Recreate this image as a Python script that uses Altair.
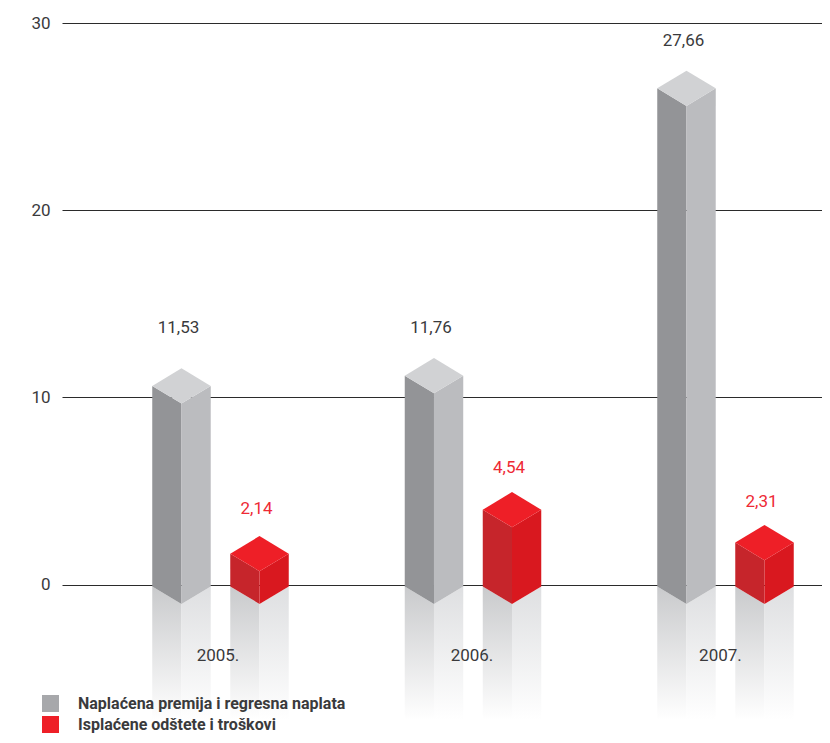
import altair as alt
import pandas as pd

# ---- values ----
years = ["2005.", "2006.", "2007."]
series = ["Naplaćena premija i regresna naplata", "Isplaćene odštete i troškovi"]
premium_labels = ["11,53", "11,76", "27,66"]
claims_labels = ["2,14", "4,54", "2,31"]
premium_tops = [11.55, 12.1, 27.45]      # height of the drawn block
claims_tops = [2.59, 4.94, 3.18]
premium_label_y = [13.7, 13.7, 29.05]
claims_label_y = [4.05, 6.25, 4.4]
year_label_y = [-3.82, -3.82, -3.82]
year_label_x = [-0.01, 0.996, 1.98]
y_ticks = [0, 10, 20, 30]

# ---- drawing constants ----
X_DOMAIN = [-0.6277, 2.3822]
Y_DOMAIN = [-8.04, 30]
HALF = 0.1158     # half block width, in group units
OFFSET = 0.1545   # block centre from group centre
DIAMOND = 0.94    # half depth of the top face, in value units
FRONT_BOTTOM = -1.04
SIDE_BOTTOM = -0.1
FADE_END = -7.25
LABEL_SHIFT = 0.012

xs = alt.Scale(domain=X_DOMAIN, nice=False, zero=False)
ys = alt.Scale(domain=Y_DOMAIN, nice=False, zero=False)
y_axis = alt.Axis(
    values=y_ticks, grid=True, gridColor="#2b2b2b", gridWidth=1, domain=False,
    ticks=False, title=None, labelPadding=12, labelFont="Roboto", labelFontSize=17,
    labelColor="#3a3a3c", labelFlush=False, format="d",
)

blocks = []
for i in range(3):
    blocks.append(("grey", i - OFFSET, premium_tops[i], i))
    blocks.append(("red", i + OFFSET, claims_tops[i], i))

rows = []
for kind, c, top, i in blocks:
    bid = f"{kind}{i}"
    l, r = c - HALF, c + HALF
    rows += [
        dict(face="left", kind=kind, id=bid, x=l, y=top - DIAMOND, y2=SIDE_BOTTOM),
        dict(face="left", kind=kind, id=bid, x=c, y=top - 2 * DIAMOND, y2=FRONT_BOTTOM),
        dict(face="right", kind=kind, id=bid, x=c, y=top - 2 * DIAMOND, y2=FRONT_BOTTOM),
        dict(face="right", kind=kind, id=bid, x=r, y=top - DIAMOND, y2=SIDE_BOTTOM),
        dict(face="top", kind=kind, id=bid, x=l, y=top - DIAMOND, y2=top - DIAMOND),
        dict(face="top", kind=kind, id=bid, x=c, y=top, y2=top - 2 * DIAMOND),
        dict(face="top", kind=kind, id=bid, x=r, y=top - DIAMOND, y2=top - DIAMOND),
        dict(face="refl_left", kind=kind, id=bid, x=l, y=SIDE_BOTTOM, y2=FADE_END),
        dict(face="refl_left", kind=kind, id=bid, x=c, y=FRONT_BOTTOM, y2=FADE_END),
        dict(face="refl_right", kind=kind, id=bid, x=c, y=FRONT_BOTTOM, y2=FADE_END),
        dict(face="refl_right", kind=kind, id=bid, x=r, y=SIDE_BOTTOM, y2=FADE_END),
    ]
df = pd.DataFrame(rows)


def face_layer(face, kind, color):
    sub = df[df.face == face]
    if kind:
        sub = sub[sub.kind == kind]
    return alt.Chart(sub).mark_area(
        color=color, orient="vertical", interpolate="linear"
    ).encode(
        x=alt.X("x:Q", scale=xs, axis=None),
        y=alt.Y("y:Q", scale=ys, axis=y_axis),
        y2="y2:Q",
        detail="id:N",
    )


def fade(start):
    return alt.LinearGradient(
        gradient="linear", x1=0, y1=0, x2=0, y2=1,
        stops=[
            alt.GradientStop(color=start, offset=0),
            alt.GradientStop(color="#ffffff", offset=1),
        ],
    )


layers = [
    face_layer("refl_left", None, fade("#c9cacc")),
    face_layer("refl_right", None, fade("#dedfe1")),
    face_layer("left", "grey", "#939497"),
    face_layer("right", "grey", "#bbbcbf"),
    face_layer("top", "grey", "#d1d2d4"),
    face_layer("left", "red", "#c6252b"),
    face_layer("right", "red", "#d9181f"),
    face_layer("top", "red", "#ee1f27"),
]

labels = pd.DataFrame(
    [dict(x=i - OFFSET - LABEL_SHIFT, y=premium_label_y[i], t=premium_labels[i], c="#3a3a3c") for i in range(3)]
    + [dict(x=i + OFFSET - LABEL_SHIFT, y=claims_label_y[i], t=claims_labels[i], c="#ee2a35") for i in range(3)]
    + [dict(x=year_label_x[i], y=year_label_y[i], t=years[i], c="#3a3a3c") for i in range(3)]
)
text = alt.Chart(labels).mark_text(font="Roboto", fontSize=17, align="center", baseline="middle").encode(
    x=alt.X("x:Q", scale=xs, axis=None),
    y=alt.Y("y:Q", scale=ys, axis=y_axis),
    text="t:N",
    color=alt.Color("c:N", scale=None, legend=None),
)
layers.append(text)

legend_src = pd.DataFrame({"s": series, "x": [0, 0], "y": [0, 0]})
legend_layer = alt.Chart(legend_src).mark_square(size=0).encode(
    x=alt.X("x:Q", scale=xs, axis=None),
    y=alt.Y("y:Q", scale=ys, axis=y_axis),
    fill=alt.Fill(
        "s:N",
        scale=alt.Scale(domain=series, range=["#a7a8ab", "#ee1f27"]),
        legend=alt.Legend(
            orient="none", legendX=-20, legendY=672, title=None, symbolType="square",
            symbolSize=289, symbolStrokeWidth=0, labelFont="Roboto", labelFontSize=16,
            labelFontWeight="bold", labelColor="#3a3a3c", rowPadding=4, labelOffset=19,
            padding=0, symbolOpacity=1, labelLimit=400,
        ),
    ),
)
layers.append(legend_layer)

chart = alt.layer(*layers).properties(
    width=760,
    height=712,
    autosize="none",
    padding={"left": 54, "top": 15, "right": 0, "bottom": 0},
    background="#ffffff",
).configure_view(stroke=None)

chart.save("out.html", embed_options={"renderer": "svg", "actions": False})
